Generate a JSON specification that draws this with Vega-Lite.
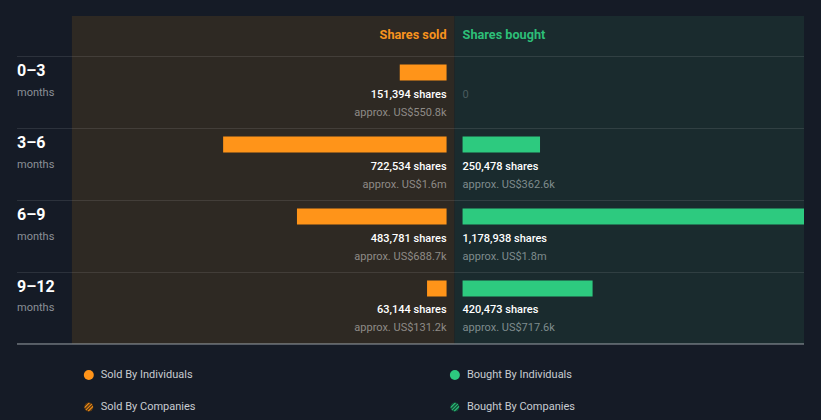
{
  "$schema": "https://vega.github.io/schema/vega-lite/v6.json",
  "width": 821,
  "height": 420,
  "autosize": {"type": "fit", "contains": "padding"},
  "padding": {"left": 16, "right": 16, "top": 16, "bottom": 0},
  "background": "#151b26",
  "config": {
    "view": {"stroke": null},
    "text": {"font": "Roboto"}
  },
  "datasets": {
    "periods": [
      {"period": "0–3", "unit": "months", "row": 0, "sold": 151394, "soldApprox": "approx. US$550.8k", "bought": 0, "boughtApprox": null},
      {"period": "3–6", "unit": "months", "row": 1, "sold": 722534, "soldApprox": "approx. US$1.6m", "bought": 250478, "boughtApprox": "approx. US$362.6k"},
      {"period": "6–9", "unit": "months", "row": 2, "sold": 483781, "soldApprox": "approx. US$688.7k", "bought": 1178938, "boughtApprox": "approx. US$1.8m"},
      {"period": "9–12", "unit": "months", "row": 3, "sold": 63144, "soldApprox": "approx. US$131.2k", "bought": 420473, "boughtApprox": "approx. US$717.6k"}
    ],
    "panels": [{"panel": "sold"}, {"panel": "bought"}],
    "headers": [
      {"side": "sold", "title": "Shares sold"},
      {"side": "bought", "title": "Shares bought"}
    ],
    "legendItems": [
      {"side": "sold", "kind": "Individuals", "label": "Sold By Individuals"},
      {"side": "sold", "kind": "Companies", "label": "Sold By Companies"},
      {"side": "bought", "kind": "Individuals", "label": "Bought By Individuals"},
      {"side": "bought", "kind": "Companies", "label": "Bought By Companies"}
    ]
  },
  "layer": [
    {
      "data": {"name": "panels"},
      "transform": [
        {"filter": "datum.panel === 'sold'"},
        {"calculate": "-1237500", "as": "x0"},
        {"calculate": "0", "as": "x1"},
        {"calculate": "-0.55556", "as": "y0"},
        {"calculate": "4", "as": "y1"}
      ],
      "mark": {"type": "rect", "color": "#2e2923"},
      "encoding": {
        "x": {"field": "x0", "type": "quantitative", "axis": null, "scale": {"domain": [-1415000, 1130000], "nice": false, "zero": false}},
        "x2": {"field": "x1"},
        "y": {"field": "y0", "type": "quantitative", "axis": null, "scale": {"domain": [-0.55556, 5.05556], "reverse": true, "nice": false, "zero": false}},
        "y2": {"field": "y1"}
      }
    },
    {
      "data": {"name": "panels"},
      "transform": [
        {"filter": "datum.panel === 'bought'"},
        {"calculate": "0", "as": "x0"},
        {"calculate": "1130000", "as": "x1"},
        {"calculate": "-0.55556", "as": "y0"},
        {"calculate": "4", "as": "y1"}
      ],
      "mark": {"type": "rect", "color": "#1a2b2e"},
      "encoding": {
        "x": {"field": "x0", "type": "quantitative", "axis": null},
        "x2": {"field": "x1"},
        "y": {"field": "y0", "type": "quantitative", "axis": null},
        "y2": {"field": "y1"}
      }
    },
    {
      "data": {"name": "periods"},
      "transform": [
        {"calculate": "-1415000", "as": "left"},
        {"calculate": "1130000", "as": "right"}
      ],
      "mark": {"type": "rule", "color": "#ffffff", "opacity": 0.1, "strokeWidth": 1, "yOffset": 0.5},
      "encoding": {
        "x": {"field": "left", "type": "quantitative", "axis": null},
        "x2": {"field": "right"},
        "y": {"field": "row", "type": "quantitative", "axis": null}
      }
    },
    {
      "data": {"name": "panels"},
      "transform": [
        {"filter": "datum.panel === 'sold'"},
        {"calculate": "-1415000", "as": "left"},
        {"calculate": "1130000", "as": "right"},
        {"calculate": "4", "as": "edge"}
      ],
      "mark": {"type": "rule", "color": "#9aa1a6", "strokeWidth": 1},
      "encoding": {
        "x": {"field": "left", "type": "quantitative", "axis": null},
        "x2": {"field": "right"},
        "y": {"field": "edge", "type": "quantitative", "axis": null}
      }
    },
    {
      "data": {"name": "periods"},
      "transform": [
        {"calculate": "0", "as": "base"},
        {"calculate": "-datum.sold", "as": "soldNeg"}
      ],
      "mark": {"type": "rect", "color": "#ff9419", "xOffset": -8, "x2Offset": -8, "yOffset": 8.5, "y2Offset": 24.5},
      "encoding": {
        "x": {"field": "base", "type": "quantitative", "axis": null},
        "x2": {"field": "soldNeg"},
        "y": {"field": "row", "type": "quantitative", "axis": null},
        "y2": {"field": "row"}
      }
    },
    {
      "data": {"name": "periods"},
      "transform": [
        {"filter": "datum.bought > 0"},
        {"calculate": "0", "as": "base"}
      ],
      "mark": {"type": "rect", "color": "#2dca7f", "clip": true, "xOffset": 8, "x2Offset": 8, "yOffset": 8.5, "y2Offset": 24.5},
      "encoding": {
        "x": {"field": "base", "type": "quantitative", "axis": null},
        "x2": {"field": "bought"},
        "y": {"field": "row", "type": "quantitative", "axis": null},
        "y2": {"field": "row"}
      }
    },
    {
      "data": {"name": "periods"},
      "transform": [{"calculate": "-1415000", "as": "left"}],
      "mark": {"type": "text", "align": "left", "baseline": "middle", "dy": 15, "fontSize": 16, "fontWeight": "bold", "color": "#ffffff"},
      "encoding": {
        "x": {"field": "left", "type": "quantitative", "axis": null},
        "y": {"field": "row", "type": "quantitative", "axis": null},
        "text": {"field": "period", "type": "nominal"}
      }
    },
    {
      "data": {"name": "periods"},
      "transform": [{"calculate": "-1415000", "as": "left"}],
      "mark": {"type": "text", "align": "left", "baseline": "middle", "dy": 36.5, "fontSize": 11, "color": "#8b9097"},
      "encoding": {
        "x": {"field": "left", "type": "quantitative", "axis": null},
        "y": {"field": "row", "type": "quantitative", "axis": null},
        "text": {"field": "unit", "type": "nominal"}
      }
    },
    {
      "data": {"name": "periods"},
      "transform": [
        {"calculate": "0", "as": "base"},
        {"calculate": "format(datum.sold, ',') + ' shares'", "as": "soldLabel"}
      ],
      "mark": {"type": "text", "align": "right", "baseline": "middle", "dx": -8, "dy": 38.5, "fontSize": 11, "fontWeight": 500, "color": "#ffffff"},
      "encoding": {
        "x": {"field": "base", "type": "quantitative", "axis": null},
        "y": {"field": "row", "type": "quantitative", "axis": null},
        "text": {"field": "soldLabel", "type": "nominal"}
      }
    },
    {
      "data": {"name": "periods"},
      "transform": [{"calculate": "0", "as": "base"}],
      "mark": {"type": "text", "align": "right", "baseline": "middle", "dx": -8, "dy": 56.5, "fontSize": 11, "color": "#8e8b87"},
      "encoding": {
        "x": {"field": "base", "type": "quantitative", "axis": null},
        "y": {"field": "row", "type": "quantitative", "axis": null},
        "text": {"field": "soldApprox", "type": "nominal"}
      }
    },
    {
      "data": {"name": "periods"},
      "transform": [
        {"filter": "datum.bought > 0"},
        {"calculate": "0", "as": "base"},
        {"calculate": "format(datum.bought, ',') + ' shares'", "as": "boughtLabel"}
      ],
      "mark": {"type": "text", "align": "left", "baseline": "middle", "dx": 8, "dy": 38.5, "fontSize": 11, "fontWeight": 500, "color": "#ffffff"},
      "encoding": {
        "x": {"field": "base", "type": "quantitative", "axis": null},
        "y": {"field": "row", "type": "quantitative", "axis": null},
        "text": {"field": "boughtLabel", "type": "nominal"}
      }
    },
    {
      "data": {"name": "periods"},
      "transform": [
        {"filter": "datum.bought == 0"},
        {"calculate": "0", "as": "base"},
        {"calculate": "'' + datum.bought", "as": "boughtLabel"}
      ],
      "mark": {"type": "text", "align": "left", "baseline": "middle", "dx": 8, "dy": 38.5, "fontSize": 11, "color": "#4a5b5e"},
      "encoding": {
        "x": {"field": "base", "type": "quantitative", "axis": null},
        "y": {"field": "row", "type": "quantitative", "axis": null},
        "text": {"field": "boughtLabel", "type": "nominal"}
      }
    },
    {
      "data": {"name": "periods"},
      "transform": [
        {"filter": "datum.boughtApprox != null"},
        {"calculate": "0", "as": "base"}
      ],
      "mark": {"type": "text", "align": "left", "baseline": "middle", "dx": 8, "dy": 56.5, "fontSize": 11, "color": "#7f8b8d"},
      "encoding": {
        "x": {"field": "base", "type": "quantitative", "axis": null},
        "y": {"field": "row", "type": "quantitative", "axis": null},
        "text": {"field": "boughtApprox", "type": "nominal"}
      }
    },
    {
      "data": {"name": "headers"},
      "transform": [
        {"filter": "datum.side === 'sold'"},
        {"calculate": "0", "as": "base"},
        {"calculate": "0", "as": "top"}
      ],
      "mark": {"type": "text", "align": "right", "baseline": "middle", "dx": -8, "dy": -21.5, "fontSize": 12.7, "fontWeight": "bold", "color": "#f7931e"},
      "encoding": {
        "x": {"field": "base", "type": "quantitative", "axis": null},
        "y": {"field": "top", "type": "quantitative", "axis": null},
        "text": {"field": "title", "type": "nominal"}
      }
    },
    {
      "data": {"name": "headers"},
      "transform": [
        {"filter": "datum.side === 'bought'"},
        {"calculate": "0", "as": "base"},
        {"calculate": "0", "as": "top"}
      ],
      "mark": {"type": "text", "align": "left", "baseline": "middle", "dx": 8, "dy": -21.5, "fontSize": 12.7, "fontWeight": "bold", "color": "#2dbf78"},
      "encoding": {
        "x": {"field": "base", "type": "quantitative", "axis": null},
        "y": {"field": "top", "type": "quantitative", "axis": null},
        "text": {"field": "title", "type": "nominal"}
      }
    },
    {
      "data": {"name": "legendItems"},
      "transform": [
        {"filter": "datum.label === 'Sold By Individuals'"},
        {"calculate": "-1182750", "as": "lx"},
        {"calculate": "4.4306", "as": "ly"}
      ],
      "mark": {"type": "point", "shape": "circle", "filled": true, "size": 100, "color": "#ff9419", "opacity": 1},
      "encoding": {
        "x": {"field": "lx", "type": "quantitative", "axis": null},
        "y": {"field": "ly", "type": "quantitative", "axis": null}
      }
    },
    {
      "data": {"name": "legendItems"},
      "transform": [
        {"filter": "datum.label === 'Bought By Individuals'"},
        {"calculate": "1000", "as": "lx"},
        {"calculate": "4.4306", "as": "ly"}
      ],
      "mark": {"type": "point", "shape": "circle", "filled": true, "size": 100, "color": "#2dca7f", "opacity": 1},
      "encoding": {
        "x": {"field": "lx", "type": "quantitative", "axis": null},
        "y": {"field": "ly", "type": "quantitative", "axis": null}
      }
    },
    {
      "data": {"name": "legendItems"},
      "transform": [
        {"filter": "datum.label === 'Sold By Companies'"},
        {"calculate": "-1182750", "as": "lx"},
        {"calculate": "4.875", "as": "ly"}
      ],
      "mark": {"type": "point", "shape": "circle", "filled": true, "size": 81, "color": "#5e3b12", "opacity": 1},
      "encoding": {
        "x": {"field": "lx", "type": "quantitative", "axis": null},
        "y": {"field": "ly", "type": "quantitative", "axis": null}
      }
    },
    {
      "data": {"name": "legendItems"},
      "transform": [
        {"filter": "datum.label === 'Sold By Companies'"},
        {"calculate": "-1182750", "as": "lx"},
        {"calculate": "4.875", "as": "ly"}
      ],
      "mark": {"type": "point", "shape": "M-0.74,0.59L0.59,-0.74L0.74,-0.59L-0.59,0.74ZM-0.95,0L0,-0.95L0.26,-0.91L-0.91,0.26ZM-0.26,0.91L0.91,-0.26L0.95,0L0,0.95Z", "filled": true, "size": 81, "color": "#ff9419", "opacity": 1},
      "encoding": {
        "x": {"field": "lx", "type": "quantitative", "axis": null},
        "y": {"field": "ly", "type": "quantitative", "axis": null}
      }
    },
    {
      "data": {"name": "legendItems"},
      "transform": [
        {"filter": "datum.label === 'Bought By Companies'"},
        {"calculate": "1000", "as": "lx"},
        {"calculate": "4.875", "as": "ly"}
      ],
      "mark": {"type": "point", "shape": "circle", "filled": true, "size": 81, "color": "#14503a", "opacity": 1},
      "encoding": {
        "x": {"field": "lx", "type": "quantitative", "axis": null},
        "y": {"field": "ly", "type": "quantitative", "axis": null}
      }
    },
    {
      "data": {"name": "legendItems"},
      "transform": [
        {"filter": "datum.label === 'Bought By Companies'"},
        {"calculate": "1000", "as": "lx"},
        {"calculate": "4.875", "as": "ly"}
      ],
      "mark": {"type": "point", "shape": "M-0.74,0.59L0.59,-0.74L0.74,-0.59L-0.59,0.74ZM-0.95,0L0,-0.95L0.26,-0.91L-0.91,0.26ZM-0.26,0.91L0.91,-0.26L0.95,0L0,0.95Z", "filled": true, "size": 81, "color": "#2dca7f", "opacity": 1},
      "encoding": {
        "x": {"field": "lx", "type": "quantitative", "axis": null},
        "y": {"field": "ly", "type": "quantitative", "axis": null}
      }
    },
    {
      "data": {"name": "legendItems"},
      "transform": [
        {"calculate": "datum.side === 'sold' ? -1182750 : 1000", "as": "lx"},
        {"calculate": "datum.kind === 'Individuals' ? 4.4306 : 4.875", "as": "ly"}
      ],
      "mark": {"type": "text", "align": "left", "baseline": "middle", "dx": 12, "fontSize": 11, "color": "#c8ccd1"},
      "encoding": {
        "x": {"field": "lx", "type": "quantitative", "axis": null},
        "y": {"field": "ly", "type": "quantitative", "axis": null},
        "text": {"field": "label", "type": "nominal"}
      }
    }
  ]
}
